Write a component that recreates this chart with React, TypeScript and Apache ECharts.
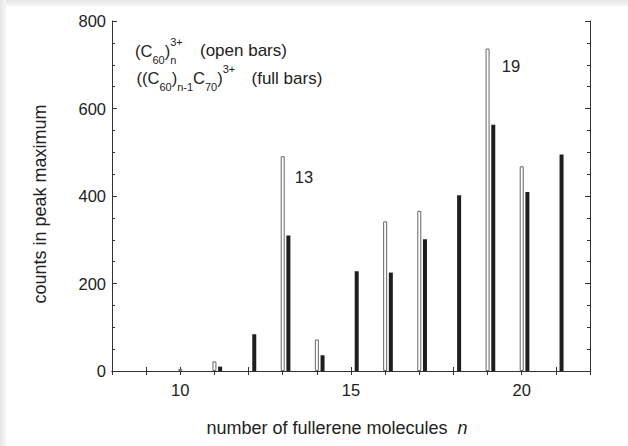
import React, { useEffect, useRef } from "react";
import * as echarts from "echarts";

// (C60)n^3+ : open bars, at n
const nOpen = [10, 11, 13, 14, 16, 17, 19, 20];
const openCounts = [5, 22, 491, 72, 342, 366, 737, 468];
// ((C60)n-1 C70)^3+ : full bars, at n + extra mass of C70 in C60 units
const nFull = [11, 12, 13, 14, 15, 16, 17, 18, 19, 20, 21];
const fullCounts = [10, 84, 310, 36, 228, 225, 301, 402, 563, 409, 495];
const C70_SHIFT = 10 / 60;

const xTickLabels = [10, 15, 20];
const annotations = [
  { text: "13", x: 304, y: 177 },
  { text: "19", x: 511, y: 66 },
];

const FAMILY = '"Liberation Sans", Arial, Helvetica, sans-serif';
const TXT = "#222";

type Piece = [string | [string, string], "m" | "b" | "p" | "bp"];

function formula(pieces: Piece[], x0: number, yc: number, main: number, small: number, subDy: number, supDy: number) {
  const ctx = document.createElement("canvas").getContext("2d")!;
  const w = (t: string, s: number) => {
    ctx.font = `${s}px ${FAMILY}`;
    return ctx.measureText(t).width;
  };
  const els: any[] = [];
  let x = x0;
  const mk = (t: string, s: number, y: number) => ({
    type: "text",
    x,
    y,
    silent: true,
    style: { text: t, font: `${s}px ${FAMILY}`, fill: TXT, align: "left", verticalAlign: "middle" },
  });
  for (const [t, role] of pieces) {
    if (role === "m") {
      els.push(mk(t as string, main, yc));
      x += w(t as string, main);
    } else if (role === "b") {
      els.push(mk(t as string, small, yc + subDy));
      x += w(t as string, small);
    } else if (role === "p") {
      els.push(mk(t as string, small, yc + supDy));
      x += w(t as string, small);
    } else {
      const [b, p] = t as [string, string];
      els.push(mk(b, small, yc + subDy));
      els.push(mk(p, small, yc + supDy));
      x += Math.max(w(b, small), w(p, small));
    }
  }
  return els;
}

export default function App() {
  const ref = useRef<HTMLDivElement>(null);
  useEffect(() => {
    document.body.style.margin = "0";
    const chart = echarts.init(ref.current!, undefined, { renderer: "svg" });

    const openData = nOpen.map((n, i) => [n, openCounts[i]]);
    const fullData = nFull.map((n, i) => [n + C70_SHIFT, fullCounts[i]]);

    const graphics: any[] = [
      {
        type: "rect",
        shape: { x: 0, y: 0, width: 628, height: 6 },
        silent: true,
        z: -10,
        style: {
          fill: new echarts.graphic.LinearGradient(0, 0, 0, 1, [
            { offset: 0, color: "#e6e6e6" },
            { offset: 1, color: "#f7f7f7" },
          ]),
        },
      },
      {
        type: "rect",
        shape: { x: 0, y: 0, width: 6, height: 446 },
        silent: true,
        z: -10,
        style: {
          fill: new echarts.graphic.LinearGradient(0, 0, 1, 0, [
            { offset: 0, color: "#e6e6e6" },
            { offset: 1, color: "#f7f7f7" },
          ]),
        },
      },
      ...formula(
        [
          ["(C", "m"],
          ["60", "b"],
          [")", "m"],
          [["n", "3+"], "bp"],
        ],
        135,
        50.5,
        16.5,
        11,
        9,
        -9
      ),
      {
        type: "text",
        x: 200,
        y: 50.5,
        style: { text: "(open bars)", font: `17px ${FAMILY}`, fill: TXT, verticalAlign: "middle" },
      },
      ...formula(
        [
          ["((C", "m"],
          ["60", "b"],
          [")", "m"],
          ["n-1", "b"],
          ["C", "m"],
          ["70", "b"],
          [")", "m"],
          ["3+", "p"],
        ],
        136.5,
        78,
        16.5,
        11,
        8.5,
        -9
      ),
      {
        type: "text",
        x: 251.5,
        y: 78,
        style: { text: "(full bars)", font: `17px ${FAMILY}`, fill: TXT, verticalAlign: "middle" },
      },
      ...annotations.map((a) => ({
        type: "text",
        x: a.x,
        y: a.y,
        style: { text: a.text, font: `16.5px ${FAMILY}`, fill: TXT, align: "center", verticalAlign: "middle" },
      })),
      {
        type: "text",
        x: 337,
        y: 428,
        style: {
          text: "number of fullerene molecules  {i|n}",
          font: `18px ${FAMILY}`,
          fill: TXT,
          align: "center",
          verticalAlign: "middle",
          rich: { i: { fontSize: 18, fontStyle: "italic", fill: TXT, fontFamily: FAMILY } },
        },
      },
      {
        type: "text",
        x: 40,
        y: 204,
        rotation: Math.PI / 2,
        style: {
          text: "counts in peak maximum",
          font: `18px ${FAMILY}`,
          fill: TXT,
          align: "center",
          verticalAlign: "middle",
        },
      },
    ];

    const axisLine = { show: true, lineStyle: { color: "#333", width: 1 } };
    chart.setOption({
      animation: false,
      backgroundColor: "#ffffff",
      textStyle: { fontFamily: FAMILY },
      grid: { left: 112, right: 38, top: 21, bottom: 75, containLabel: false },
      xAxis: [
        {
          type: "value",
          min: 8,
          max: 22,
          interval: 1,
          position: "bottom",
          axisLine,
          axisTick: { show: true, inside: true, length: 4, lineStyle: { color: "#333" } },
          axisLabel: {
            fontSize: 16.5,
            color: TXT,
            margin: 10,
            fontFamily: FAMILY,
            formatter: (v: number) => (xTickLabels.includes(v) ? String(v) : ""),
          },
          splitLine: { show: false },
        },
        {
          type: "value",
          min: 8,
          max: 22,
          interval: 1,
          position: "top",
          axisLine,
          axisTick: { show: true, inside: true, length: 4, lineStyle: { color: "#333" } },
          axisLabel: { show: false },
          splitLine: { show: false },
        },
      ],
      yAxis: [
        {
          type: "value",
          min: 0,
          max: 800,
          interval: 200,
          position: "left",
          axisLine,
          axisTick: { show: true, inside: true, length: 5, lineStyle: { color: "#333" } },
          minorTick: { show: true, splitNumber: 4, length: 3, lineStyle: { color: "#333" } },
          axisLabel: { fontSize: 16.5, color: TXT, margin: 6, fontFamily: FAMILY },
          splitLine: { show: false },
          minorSplitLine: { show: false },
        },
        {
          type: "value",
          min: 0,
          max: 800,
          interval: 200,
          position: "right",
          axisLine,
          axisTick: { show: true, inside: true, length: 5, lineStyle: { color: "#333" } },
          minorTick: { show: true, splitNumber: 4, length: 3, lineStyle: { color: "#333" } },
          axisLabel: { show: false },
          splitLine: { show: false },
          minorSplitLine: { show: false },
        },
      ],
      series: [
        {
          name: "(C60)n 3+",
          type: "bar",
          xAxisIndex: 0,
          yAxisIndex: 0,
          data: openData,
          barWidth: 4,
          barGap: "-100%",
          itemStyle: { color: "#ffffff", borderColor: "#666", borderWidth: 1 },
        },
        {
          name: "((C60)n-1C70) 3+",
          type: "bar",
          xAxisIndex: 0,
          yAxisIndex: 0,
          data: fullData,
          barWidth: 4,
          barGap: "-100%",
          itemStyle: { color: "#1e1e1e", borderWidth: 0 },
        },
      ],
      graphic: graphics,
    });
    return () => chart.dispose();
  }, []);
  return <div ref={ref} style={{ width: 628, height: 446 }} />;
}
